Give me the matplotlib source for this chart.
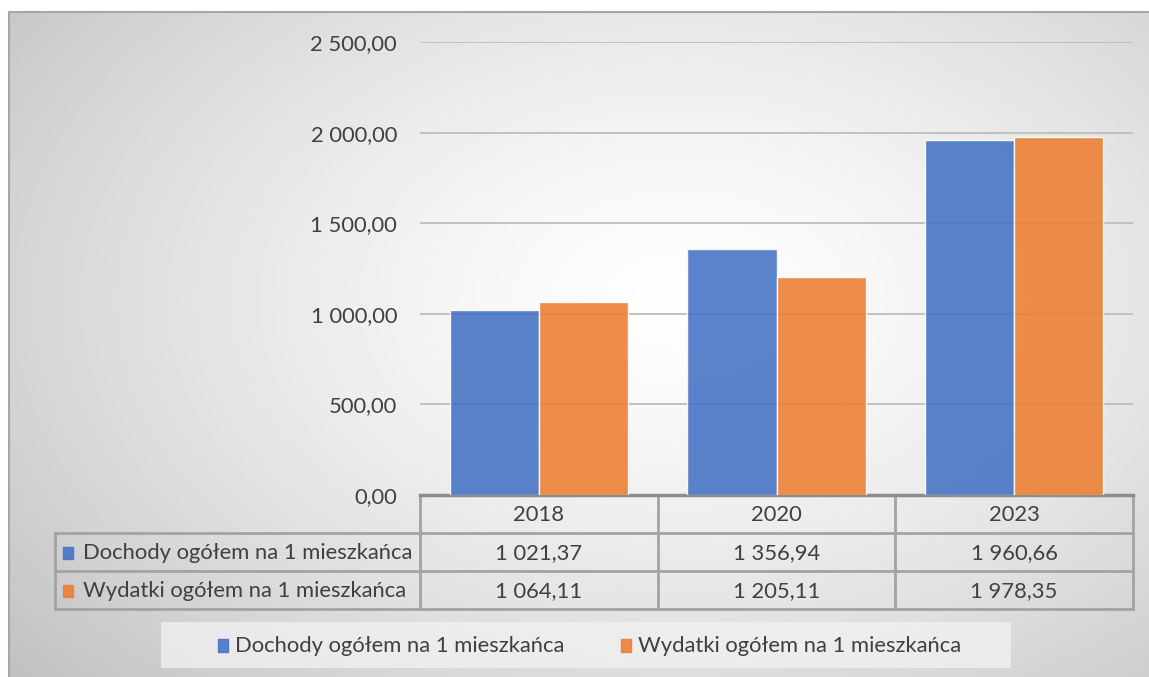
import numpy as np
import matplotlib.pyplot as plt
from matplotlib.patches import Rectangle
from matplotlib.ticker import FuncFormatter

years = ["2018", "2020", "2023"]
series_names = ["Dochody ogółem na 1 mieszkańca", "Wydatki ogółem na 1 mieszkańca"]
dochody = [1021.37, 1356.94, 1960.66]
wydatki = [1064.11, 1205.11, 1978.35]
colors = ["#4472C4", "#ED7D31"]

plt.rcParams['font.family'] = ['Lato', 'DejaVu Sans']
txt = "#404040"
fs = 15.8


def pl(v):
    return f"{v:,.2f}".replace(",", " ").replace(".", ",")


W, H = 1149, 677
fig = plt.figure(figsize=(W / 100, H / 100), dpi=100)

# background axes in pixel coordinates
bg = fig.add_axes([0, 0, 1, 1])
bg.set_xlim(0, W)
bg.set_ylim(H, 0)
bg.axis('off')
xx, yy = np.meshgrid(np.arange(W), np.arange(H))
d = np.sqrt(((xx - 680) / 720) ** 2 + ((yy - 300) / 470) ** 2)
val = 1 - 0.25 * np.clip(d, 0, 1.25) ** 1.4 / 1.25 ** 1.4
img = np.dstack([val, val, val])
img[:12, :] = 1
img[:, :9] = 1
bg.imshow(img, extent=(0, W, H, 0), aspect='auto', zorder=0)
bg.plot([9, 9, W], [H, 12, 12], color="#a6a6a6", lw=1.5, zorder=1)

# main chart
left, right, top, bottom = 420, 1133, 42, 495
ax = fig.add_axes([left / W, 1 - bottom / H, (right - left) / W, (bottom - top) / H])
ax.set_facecolor('none')
x = np.arange(len(years))
bw = 0.375
ax.bar(x - bw / 2, dochody, bw, color=colors[0], alpha=0.88,
       edgecolor=(1, 1, 1, 0.6), linewidth=1, zorder=3)
ax.bar(x + bw / 2, wydatki, bw, color=colors[1], alpha=0.88,
       edgecolor=(1, 1, 1, 0.6), linewidth=1, zorder=3)
ax.set_xlim(-0.5, len(years) - 0.5)
ax.set_ylim(0, 2500)
ax.set_yticks(np.arange(0, 2501, 500))
ax.yaxis.set_major_formatter(FuncFormatter(lambda v, p: pl(v)))
ax.tick_params(axis='y', length=0, pad=16.5, labelsize=fs, labelcolor=txt)
ax.set_xticks([])
ax.grid(axis='y', color="#bdbdbd", lw=1.3, zorder=0)
for s in ['top', 'right', 'left']:
    ax.spines[s].set_visible(False)
ax.spines['bottom'].set_color("#8c8c8c")
ax.spines['bottom'].set_linewidth(2.5)

# data table
lc = "#a3a3a3"
col_edges = [left + (right - left) * i / len(years) for i in range(len(years) + 1)]
rows = [495, 533, 571, 609]
tl = 55
for yv in rows[1:]:
    bg.plot([tl, right], [yv, yv], color=lc, lw=2, zorder=2)
bg.plot([tl, tl], [rows[1], rows[3]], color=lc, lw=2, zorder=2)
for xe in col_edges:
    bg.plot([xe, xe], [rows[0], rows[3]], color=lc, lw=2, zorder=2)
for i, yr in enumerate(years):
    cx = (col_edges[i] + col_edges[i + 1]) / 2
    bg.text(cx, (rows[0] + rows[1]) / 2 + 1, yr, ha='center', va='center', fontsize=fs, color=txt, zorder=3)
for r, (name, vals) in enumerate(zip(series_names, [dochody, wydatki])):
    cy = (rows[r + 1] + rows[r + 2]) / 2 + 1
    bg.add_patch(Rectangle((63, cy - 6.5), 10, 12, color=colors[r], alpha=0.88, zorder=3))
    bg.text(83, cy, name, ha='left', va='center', fontsize=fs, color=txt, zorder=3)
    for i, v in enumerate(vals):
        cx = (col_edges[i] + col_edges[i + 1]) / 2
        bg.text(cx, cy, pl(v), ha='center', va='center', fontsize=fs, color=txt, zorder=3)

# legend
bg.add_patch(Rectangle((161, 622), 850, 46, facecolor="#f2f2f2", alpha=0.75, edgecolor='none', zorder=2))
lx = [218, 621]
for r, name in enumerate(series_names):
    bg.add_patch(Rectangle((lx[r], 639), 10, 13, color=colors[r], alpha=0.88, zorder=3))
    bg.text(lx[r] + 17, 646, name, ha='left', va='center', fontsize=fs, color=txt, zorder=3)

fig.savefig("out.png", dpi=100)
